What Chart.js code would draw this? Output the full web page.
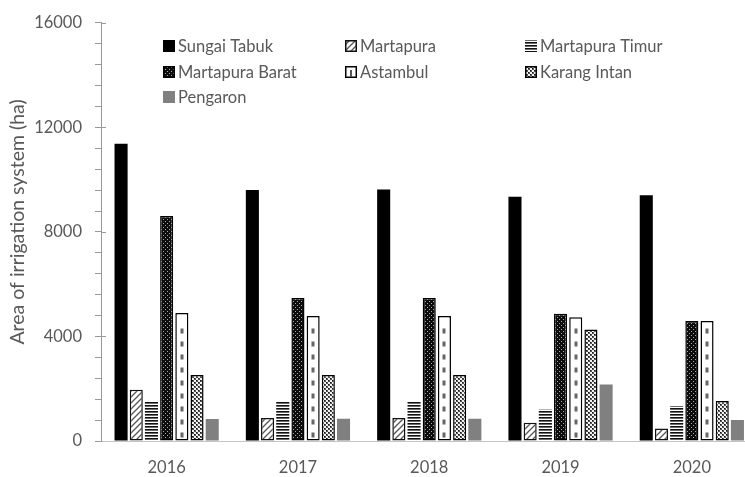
<!DOCTYPE html>
<html>
<head>
<meta charset="utf-8">
<title>Area of irrigation system</title>
<script src="https://cdn.jsdelivr.net/npm/chart.js@4.4.1/dist/chart.umd.min.js"></script>
<style>
  html, body { margin: 0; padding: 0; background: #fff; overflow: hidden; }
  #wrap { width: 745px; height: 477px; overflow: hidden; }
</style>
</head>
<body>
<div id="wrap"><canvas id="chart" width="760" height="477"></canvas></div>
<script>
// area (ha) per irrigation system and year
const years = ["2016", "2017", "2018", "2019", "2020"];
const sungaiTabuk    = [11380, 9610, 9620, 9350, 9400];
const martapura      = [1960, 880, 880, 700, 480];
const martapuraTimur = [1490, 1490, 1490, 1210, 1340];
const martapuraBarat = [8610, 5470, 5470, 4870, 4590];
const astambul       = [4900, 4780, 4780, 4740, 4590];
const karangIntan    = [2530, 2530, 2530, 4270, 1530];
const pengaron       = [840, 850, 850, 2160, 800];

const yMax = 16000;
const majorStep = 4000;
const minorStep = 800;
const yTitle = "Area of irrigation system (ha)";

const textColor = "#595959";
const fontFamily = "Lato, 'Open Sans', sans-serif";

function makePattern(w, h, draw) {
    const c = document.createElement("canvas");
    c.width = w; c.height = h;
    const g = c.getContext("2d");
    draw(g, w, h);
    return g.createPattern(c, "repeat");
}

// fills
const hatchDiag = makePattern(6, 6, (g) => {
    g.fillStyle = "#fff"; g.fillRect(0, 0, 6, 6);
    g.strokeStyle = "#555"; g.lineWidth = 1.3;
    g.beginPath();
    g.moveTo(-1, 7); g.lineTo(7, -1);
    g.moveTo(-1, 1); g.lineTo(1, -1);
    g.moveTo(5, 7); g.lineTo(7, 5);
    g.stroke();
});
const stripesH = makePattern(2, 3, (g) => {
    g.fillStyle = "#fff"; g.fillRect(0, 0, 2, 3);
    g.fillStyle = "#111"; g.fillRect(0, 0, 2, 1);
    g.fillStyle = "#6a6a6a"; g.fillRect(0, 1, 2, 1);
});
const darkDots = makePattern(4, 4, (g) => {
    g.fillStyle = "#0d0d0d"; g.fillRect(0, 0, 4, 4);
    g.fillStyle = "#a8a8a8";
    g.fillRect(1, 1, 1, 1);
    g.fillRect(3, 3, 1, 1);
});
const greyChecks = makePattern(4, 4, (g) => {
    g.fillStyle = "#f2f2f2"; g.fillRect(0, 0, 4, 4);
    g.fillStyle = "#555";
    g.fillRect(0, 0, 2, 2);
    g.fillRect(2, 2, 2, 2);
    g.fillStyle = "#111";
    g.fillRect(0, 0, 1, 1);
    g.fillRect(2, 2, 1, 1);
});

const datasets = [
    { label: "Sungai Tabuk", data: sungaiTabuk, backgroundColor: "#000", borderWidth: 0 },
    { label: "Martapura", data: martapura, backgroundColor: hatchDiag, borderColor: "#111", borderWidth: 1.5 },
    { label: "Martapura Timur", data: martapuraTimur, backgroundColor: stripesH, borderWidth: 0 },
    { label: "Martapura Barat", data: martapuraBarat, backgroundColor: darkDots, borderColor: "#000", borderWidth: 1.5 },
    { label: "Astambul", data: astambul, backgroundColor: "#fff", borderColor: "#000", borderWidth: 1.5 },
    { label: "Karang Intan", data: karangIntan, backgroundColor: greyChecks, borderColor: "#000", borderWidth: 1.5 },
    { label: "Pengaron", data: pengaron, backgroundColor: "#808080", borderWidth: 0 }
];

// dashed centre line inside the Astambul bars
const centreDashes = {
    id: "centreDashes",
    afterDatasetsDraw(chart) {
        const meta = chart.getDatasetMeta(4);
        const ctx = chart.ctx;
        ctx.save();
        ctx.fillStyle = "#666";
        meta.data.forEach(bar => {
            for (let y = bar.base - 8; y > bar.y + 5; y -= 13) {
                ctx.fillRect(Math.round(bar.x) - 1.5, y, 3, 5);
            }
        });
        ctx.restore();
    }
};

// major ticks cross the y axis line; rotated axis title
const axisExtras = {
    id: "axisExtras",
    afterDraw(chart) {
        const y = chart.scales.y;
        const ctx = chart.ctx;
        const x0 = chart.chartArea.left;
        ctx.save();
        ctx.strokeStyle = "#999";
        ctx.lineWidth = 1;
        for (let v = majorStep; v <= yMax; v += majorStep) {
            const py = Math.round(y.getPixelForValue(v)) + 0.5;
            ctx.beginPath();
            ctx.moveTo(x0, py);
            ctx.lineTo(x0 + 5, py);
            ctx.stroke();
        }
        ctx.translate(18, 222);
        ctx.rotate(-Math.PI / 2);
        ctx.font = "19.5px " + fontFamily;
        ctx.fillStyle = textColor;
        ctx.textAlign = "center";
        ctx.textBaseline = "middle";
        ctx.fillText(yTitle, 0, 0);
        ctx.restore();
    }
};

// three-column legend inside the plot
const gridLegend = {
    id: "gridLegend",
    afterDraw(chart) {
        const ctx = chart.ctx;
        const colX = [163, 345, 525];
        const rowY = [46, 71.5, 97];
        const box = 12;
        ctx.save();
        ctx.font = "16.5px " + fontFamily;
        ctx.textBaseline = "middle";
        chart.data.datasets.forEach((ds, i) => {
            const x = colX[i % 3];
            const cy = rowY[Math.floor(i / 3)];
            const top = Math.round(cy - box / 2);
            ctx.fillStyle = ds.backgroundColor;
            ctx.fillRect(x, top, box, box);
            if (ds.borderWidth) {
                ctx.strokeStyle = ds.borderColor;
                ctx.lineWidth = 1.5;
                ctx.strokeRect(x + 0.75, top + 0.75, box - 1.5, box - 1.5);
            }
            if (i === 4) {
                ctx.fillStyle = "#555";
                ctx.fillRect(x + box / 2 - 1, top + 4, 2, box - 5);
            }
            ctx.fillStyle = textColor;
            ctx.fillText(ds.label, x + 15, cy + 1);
        });
        ctx.restore();
    }
};

new Chart(document.getElementById("chart"), {
    type: "bar",
    data: { labels: years, datasets: datasets },
    options: {
        responsive: false,
        animation: false,
        devicePixelRatio: 1,
        layout: { padding: { top: 19, right: 2.5, left: 0, bottom: 0 } },
        datasets: { bar: { categoryPercentage: 0.81, barPercentage: 0.86, borderSkipped: false } },
        plugins: {
            legend: { display: false },
            tooltip: { enabled: false }
        },
        scales: {
            x: {
                grid: { display: false, drawTicks: false },
                border: { display: true, color: "#c4c4c4", width: 1 },
                ticks: { color: textColor, font: { family: fontFamily, size: 16.5 }, padding: 17 },
                afterFit: (s) => { s.height = 36; }
            },
            y: {
                min: 0,
                max: yMax,
                grid: { display: true, drawOnChartArea: false, drawTicks: true, tickLength: 6, color: "#999" },
                border: { display: true, color: "#999", width: 1 },
                ticks: {
                    stepSize: minorStep,
                    autoSkip: false,
                    padding: 13,
                    color: textColor,
                    font: { family: fontFamily, size: 16.5 },
                    callback: (v) => (v % majorStep === 0 ? String(v) : "")
                },
                afterFit: (s) => { s.width = 101; }
            }
        }
    },
    plugins: [centreDashes, axisExtras, gridLegend]
});
</script>
</body>
</html>
